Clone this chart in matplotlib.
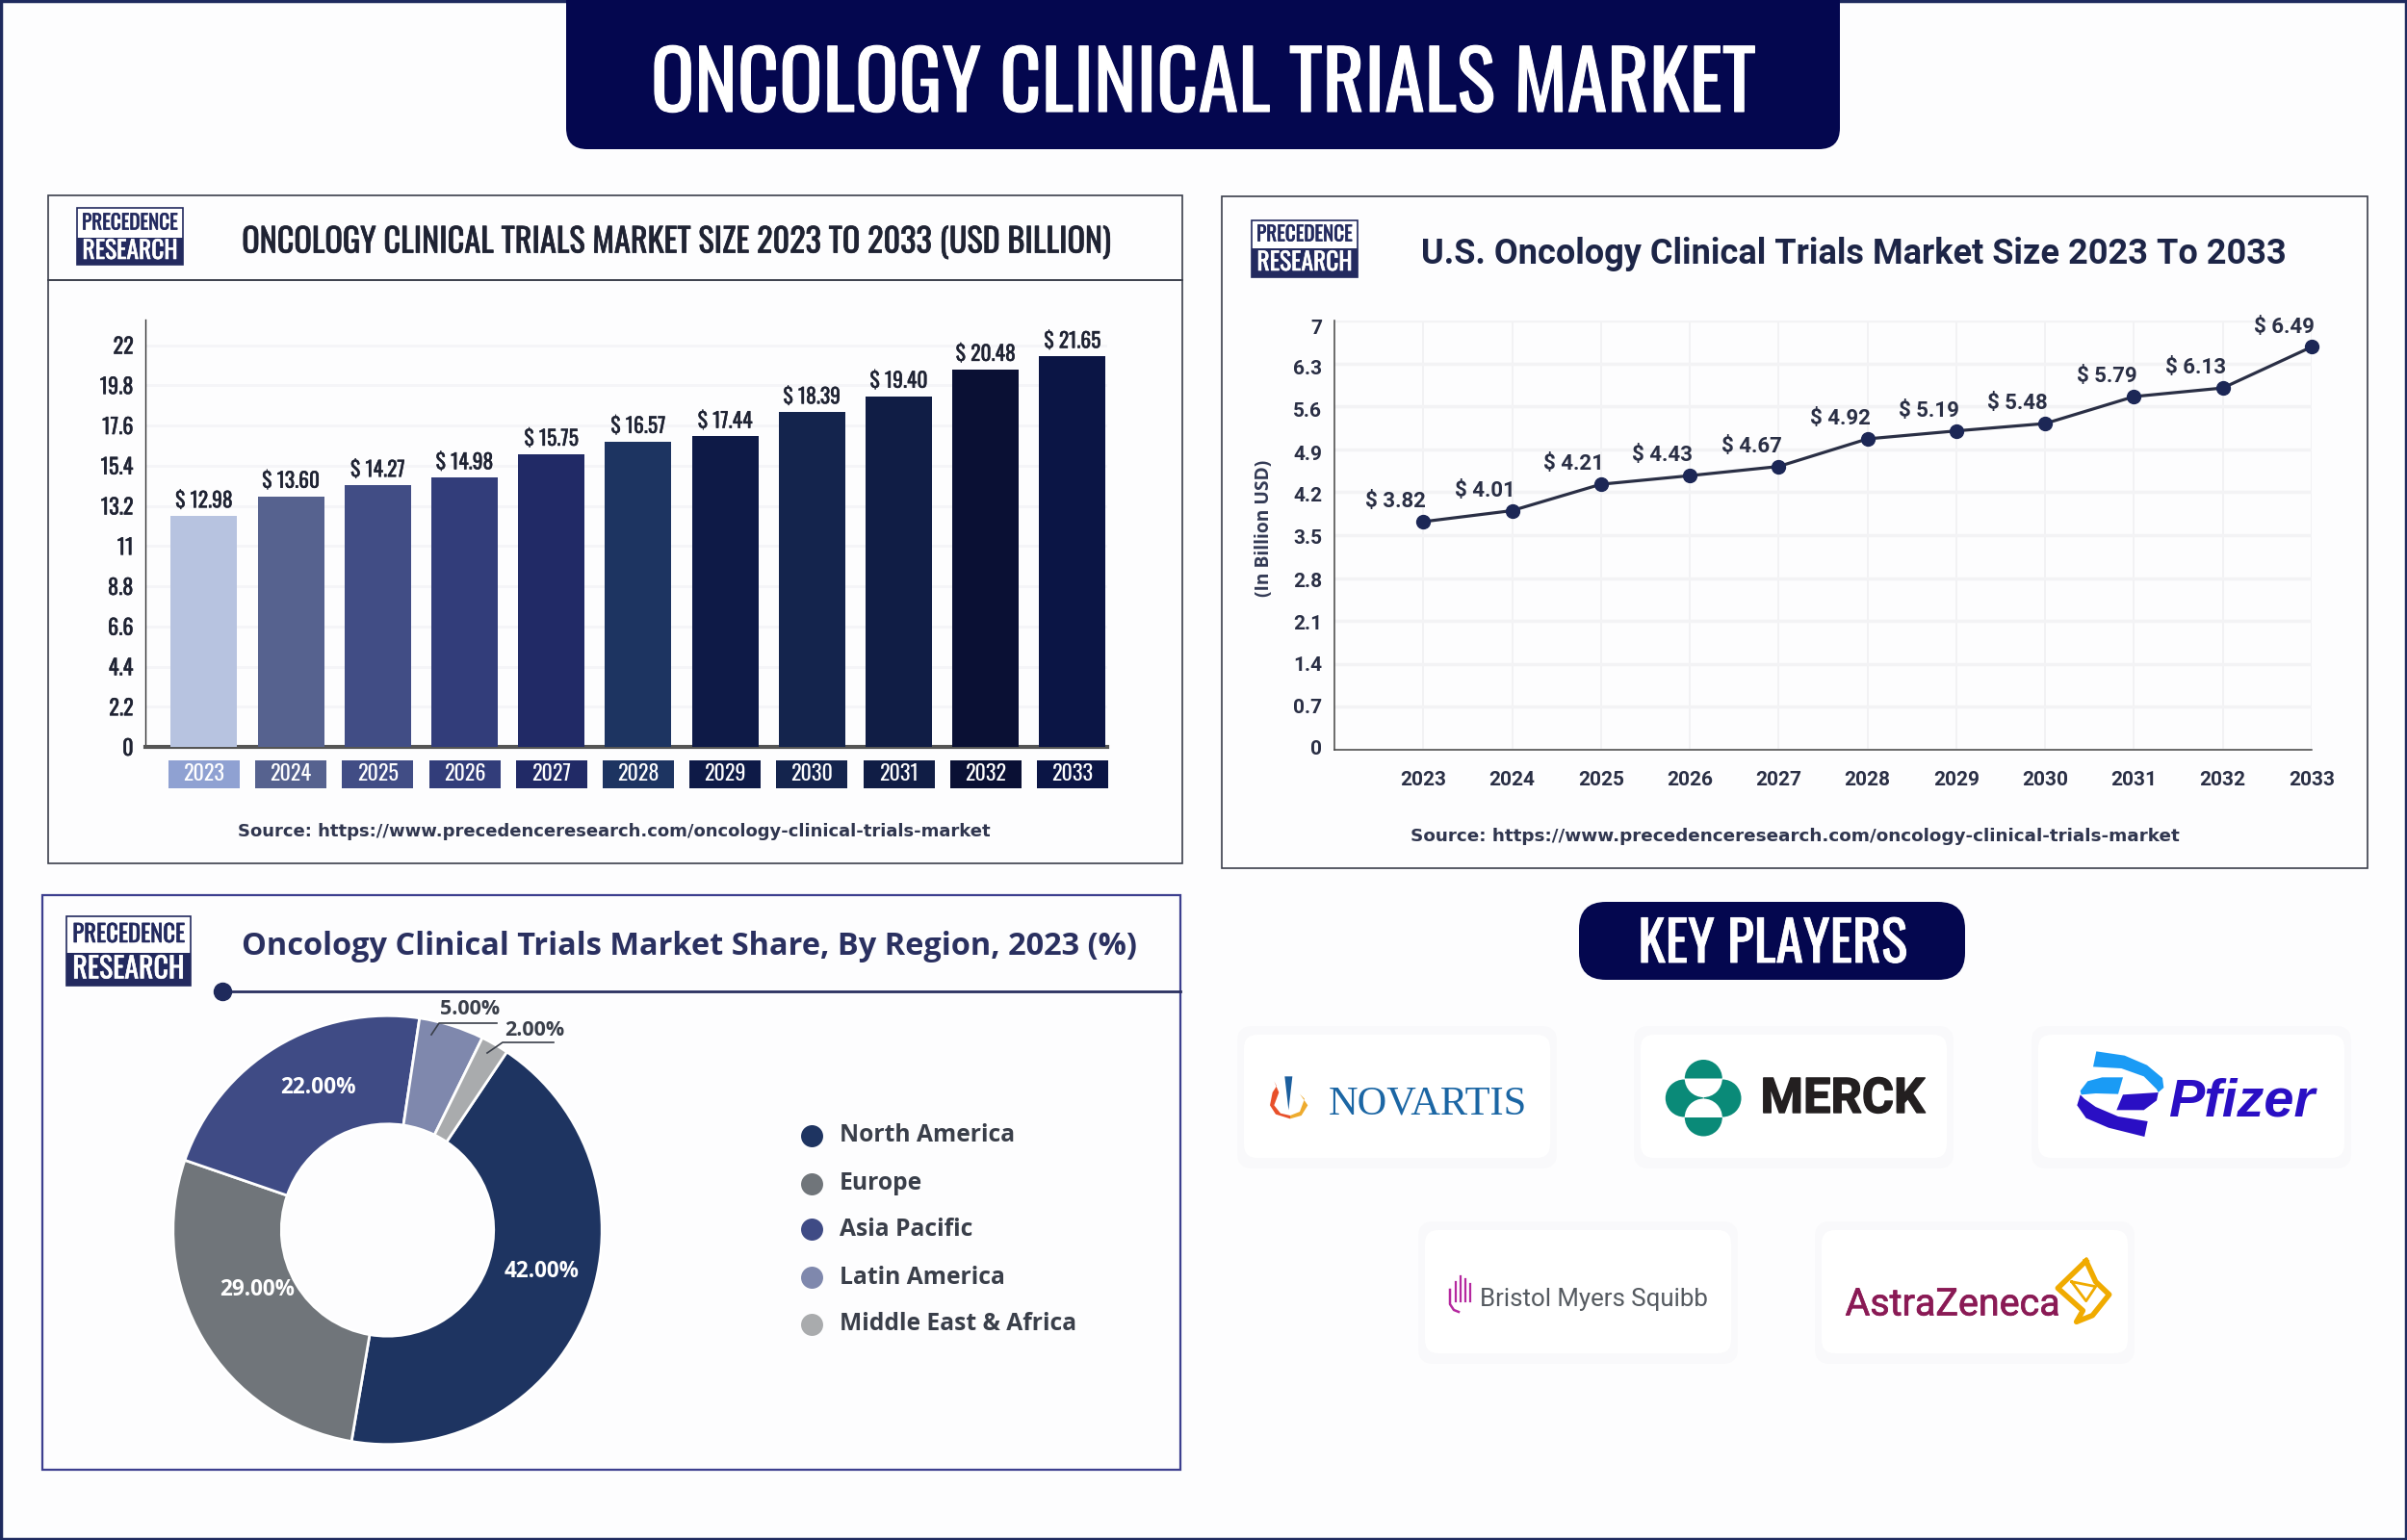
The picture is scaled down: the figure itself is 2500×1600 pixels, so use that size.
import numpy as np
from matplotlib import pyplot as plt
from matplotlib import font_manager as fm
from matplotlib import patheffects as pe
from matplotlib.patches import Rectangle, FancyBboxPatch, Circle, Wedge, Polygon

W, H = 2500, 1600

# market size chart, heights are what the bars measure in the picture (printed labels differ a bit)
years = ['2023', '2024', '2025', '2026', '2027', '2028', '2029', '2030', '2031', '2032', '2033']
size_heights = [12.64, 13.72, 14.33, 14.74, 16.03, 16.72, 17.0, 18.33, 19.2, 20.67, 21.38]
size_labels = ['$ 12.98', '$ 13.60', '$ 14.27', '$ 14.98', '$ 15.75', '$ 16.57', '$ 17.44', '$ 18.39', '$ 19.40', '$ 20.48', '$ 21.65']
size_ticks = [0, 2.2, 4.4, 6.6, 8.8, 11, 13.2, 15.4, 17.6, 19.8, 22]
size_ticklabels = ['0', '2.2', '4.4', '6.6', '8.8', '11', '13.2', '15.4', '17.6', '19.8', '22']
bar_colors = ['#b7c3e0', '#56628f', '#414d85', '#323d7a', '#212a66', '#1d3461', '#0e1a47', '#14244d', '#101d45', '#0a1034', '#0b1545']
box_colors = ['#8fa1d2', '#56628f', '#414d85', '#323d7a', '#212a66', '#1d3461', '#0e1a47', '#14244d', '#101d45', '#0a1034', '#0b1545']

# U.S. chart, same idea
us_points = [3.72, 3.90, 4.33, 4.47, 4.62, 5.07, 5.20, 5.32, 5.76, 5.90, 6.57]
us_labels = ['$ 3.82', '$ 4.01', '$ 4.21', '$ 4.43', '$ 4.67', '$ 4.92', '$ 5.19', '$ 5.48', '$ 5.79', '$ 6.13', '$ 6.49']
us_ticks = [0, 0.7, 1.4, 2.1, 2.8, 3.5, 4.2, 4.9, 5.6, 6.3, 7]
us_ticklabels = ['0', '0.7', '1.4', '2.1', '2.8', '3.5', '4.2', '4.9', '5.6', '6.3', '7']
# the printed tick labels sit a little off the gridlines in the picture
us_tick_text_at = [0, 0.69, 1.37, 2.05, 2.74, 3.44, 4.13, 4.81, 5.52, 6.2, 6.87]

# region donut
regions = ['North America', 'Europe', 'Asia Pacific', 'Latin America', 'Middle East & Africa']
share_drawn = [43.3, 27.6, 22.1, 4.9, 2.1]
share_labels = ['42.00%', '29.00%', '22.00%', '5.00%', '2.00%']
region_colors = ['#1e3461', '#70757a', '#3f4b85', '#7f88ad', '#a9abad']

NAVY = '#04074f'
INK = '#1d2547'
SRC = 'Source: https://www.precedenceresearch.com/oncology-clinical-trials-market'


def pick(names):
    have = {f.name for f in fm.fontManager.ttflist}
    for n in names:
        if n in have:
            return n
    return 'DejaVu Sans'


NARROW = pick(['Oswald', 'Bebas Neue', 'Roboto Condensed', 'Liberation Sans Narrow', 'Arial Narrow', 'Roboto'])

fig = plt.figure(figsize=(W/100, H/100), dpi=100, facecolor='#fdfdfe')
rend = fig.canvas.get_renderer()

top = fig.add_axes([0, 0, 1, 1], zorder=10)
top.set_xlim(0, W)
top.set_ylim(H, 0)
top.axis('off')


def ax_px(l, t, r, b):
    ax = fig.add_axes([l/W, 1-b/H, (r-l)/W, (b-t)/H], zorder=2)
    ax.patch.set_alpha(0)
    return ax


def thick(t, lw):
    # fake a heavier cut, the narrow font only has one weight
    t.set_path_effects([pe.withStroke(linewidth=lw, foreground=t.get_color())])
    return t


def put(x, y, s, width=None, size=12, color=INK, family=None, weight='bold', ha='center', stroke=0, **kw):
    t = top.text(x, y, s, fontsize=size, color=color, family=family or 'DejaVu Sans',
                 weight=weight, ha=ha, va='center', zorder=3, **kw)
    if width:
        e = t.get_window_extent(rend)
        span = max(e.width, e.height) if kw.get('rotation') else e.width
        t.set_fontsize(size*width/span)
    if stroke:
        thick(t, stroke)
    return t


def box(x0, y0, x1, y1, r=0, fc='white', ec='none', lw=0, z=1):
    if r:
        p = FancyBboxPatch((x0, y0), x1-x0, y1-y0, boxstyle='round,pad=0,rounding_size=%g' % r,
                           fc=fc, ec=ec, lw=lw, zorder=z)
    else:
        p = Rectangle((x0, y0), x1-x0, y1-y0, fc=fc, ec=ec, lw=lw, zorder=z)
    top.add_patch(p)


def logo(x0, y0, x1, y1, ymid):
    box(x0, y0, x1, y1, fc='white', ec='#232a5f', lw=1.2)
    box(x0, ymid, x1, y1, fc='#232a5f')
    w = (x1-x0)*0.9
    put((x0+x1)/2, (y0+ymid)/2, 'PRECEDENCE', width=w, color='#232a5f', family=NARROW, stroke=0.4)
    put((x0+x1)/2, (ymid+y1)/2, 'RESEARCH', width=w, color='white', family=NARROW, stroke=0.4)


# page frame and banner
box(1, 1, W-1, H-1, ec='#1e2a5e', lw=2.5, fc='none')
box(588, -40, 1911, 155, r=22, fc=NAVY)
put(1249, 90, 'ONCOLOGY CLINICAL TRIALS MARKET', width=1142, color='white', family=NARROW, stroke=0.8)

# ---- panel 1
box(50, 203, 1228, 897, fc='none', ec='#3b3f4c', lw=1.2)
top.plot([50, 1228], [291, 291], color='#3b3f4c', lw=1.4)
logo(80, 216, 190, 275, 247)
put(702, 252, 'ONCOLOGY CLINICAL TRIALS MARKET SIZE 2023 TO 2033 (USD BILLION)', width=898, color='#1f2333', family=NARROW, stroke=0.5)
put(638, 864, SRC, width=784, color='#30364f', size=12)

ax1 = ax_px(151, 332, 1150, 776)
x1 = np.arange(len(years))
ax1.bar(x1, size_heights, width=0.765, color=bar_colors, zorder=3)
ax1.set_xlim(-0.676, 10.4)
ax1.set_ylim(0, 23.4)
ax1.set_yticks(size_ticks)
ax1.set_yticklabels(size_ticklabels, family=NARROW, weight='bold', fontsize=16, color='#1f2333')
for lab in ax1.get_yticklabels():
    thick(lab, 0.3)
ax1.set_xticks([])
ax1.tick_params(axis='y', length=0, pad=9)
ax1.grid(axis='y', color='#f5f5f8', lw=2)
ax1.set_axisbelow(True)
for s in ['top', 'right']:
    ax1.spines[s].set_visible(False)
ax1.spines['left'].set_color('#333333')
ax1.spines['left'].set_linewidth(1)
ax1.spines['bottom'].set_color('#555555')
ax1.spines['bottom'].set_linewidth(3)
for i in x1:
    a = ax1.annotate(size_labels[i], (i, size_heights[i]), xytext=(0, 3.5), textcoords='offset points',
                     ha='center', va='bottom', family=NARROW, weight='bold', fontsize=15.5, color='#1f2333')
    thick(a, 0.3)
    ax1.add_patch(Rectangle((i-0.41, -0.097), 0.82, 0.0655, transform=ax1.get_xaxis_transform(),
                            fc=box_colors[i], clip_on=False))
    ax1.text(i, -0.064, years[i], transform=ax1.get_xaxis_transform(), ha='center', va='center',
             color='white', family=NARROW, fontsize=16)

# ---- panel 2
box(1269, 204, 2459, 902, fc='none', ec='#3b3f4c', lw=1.2)
logo(1300, 229, 1410, 288, 258)
put(1925, 264, 'U.S. Oncology Clinical Trials Market Size 2023 To 2033', width=898, color=INK, family='Roboto')
put(1864, 869, SRC, width=799, color='#30364f', size=12)
put(1313, 549, '(In Billion USD)', width=141, rotation=90, color='#333a55', size=12, family='Open Sans')

ax2 = ax_px(1386, 333, 2401, 779)
x2 = np.arange(len(years))
ax2.plot(x2, us_points, color='#2a2f45', lw=2.3, marker='o', ms=10, mfc='#1c2756', mec='#1c2756', clip_on=False, zorder=4)
ax2.set_xlim(-1, 10)
ax2.set_ylim(0, 7)
ax2.set_xticks(x2)
ax2.set_xticklabels(years, family='Roboto', weight='bold', fontsize=15, color='#2a2f45')
ax2.set_yticks(us_ticks)
ax2.set_yticklabels([])
for v, lab in zip(us_tick_text_at, us_ticklabels):
    ax2.text(-0.0128, v, lab, transform=ax2.get_yaxis_transform(), ha='right', va='center',
             family='Roboto', weight='bold', fontsize=15, color='#2a2f45')
ax2.tick_params(axis='x', length=0, pad=16)
ax2.tick_params(axis='y', length=0)
ax2.grid(axis='y', color='#f3f3f5', lw=2.5)
ax2.grid(axis='x', color='#f0f0f3', lw=1.2)
ax2.set_axisbelow(True)
for s in ['top', 'right']:
    ax2.spines[s].set_visible(False)
for s in ['left', 'bottom']:
    ax2.spines[s].set_color('#444444')
    ax2.spines[s].set_linewidth(1.1)
for i in x2:
    ax2.annotate(us_labels[i], (i, us_points[i]), xytext=(-20.5, 15), textcoords='offset points',
                 ha='center', va='center', family='Roboto', weight='bold', fontsize=16, color='#2a2f45')

# ---- panel 3
box(44, 930, 1226, 1527, fc='none', ec='#3d3f8f', lw=1.6)
logo(69, 952, 198, 1024, 990)
put(716, 984, 'Oncology Clinical Trials Market Share, By Region, 2023 (%)', width=928, color='#2a3060', family='Open Sans')
top.plot([231, 1226], [1030, 1030], color='#2a3060', lw=2)
top.plot([231], [1030], 'o', color='#1f2a5c', ms=13)

ax3 = ax_px(170, 1046, 635, 1510)
ax3.pie(share_drawn, colors=region_colors, startangle=56.2, counterclock=False, radius=0.96,
        wedgeprops=dict(width=0.485, edgecolor='white', linewidth=2))
ax3.set_xlim(-1, 1)
ax3.set_ylim(-1, 1)

put(563, 1321, share_labels[0], width=78, color='white', family='Open Sans')
put(267, 1340, share_labels[1], width=78, color='white', family='Open Sans')
put(330, 1130, share_labels[2], width=78, color='white', family='Open Sans')
put(488, 1049, share_labels[3], width=62, color='#3a3f4a', family='Open Sans')
put(555, 1070, share_labels[4], width=62, color='#3a3f4a', family='Open Sans')
top.plot([516, 456, 448], [1063, 1063, 1075], color='#3a3f4a', lw=1.2)
top.plot([575, 522, 506], [1083, 1083, 1094], color='#3a3f4a', lw=1.2)

legend_y = [1180, 1230, 1277, 1327, 1376]
for yy, name, c in zip(legend_y, regions, region_colors):
    top.plot([843], [yy], 'o', color=c, ms=15.5)
    put(872, yy, name, size=17.7, color='#3a3f4a', family='Open Sans', ha='left')

# ---- key players
box(1640, 937, 2041, 1018, r=28, fc=NAVY)
put(1841, 982, 'KEY PLAYERS', width=279, color='white', family=NARROW, stroke=0.6)

cards = [(1292, 1075), (1704, 1075), (2117, 1075), (1480, 1278), (1892, 1278)]
for cx, cy in cards:
    box(cx-7, cy-9, cx+325, cy+139, r=16, fc='#f9f9fb')
    box(cx, cy, cx+318, cy+128, r=14, fc='white')


def nv(p):
    return [(1300+a/3, 1085+b/3) for a, b in p]


def mk(p):
    return [(2140+a/3, 1080+b/3) for a, b in p]


def az(p):
    return [(1900+a/3, 1295+b/3) for a, b in p]


# novartis
top.add_patch(Polygon(nv([(103, 100), (127, 100), (115, 205)]), fc='#1c5f9e', zorder=3))
top.add_patch(Polygon(nv([(70, 115), (85, 150), (70, 190), (90, 215), (120, 222), (120, 232), (75, 218), (57, 190), (65, 150), (78, 130)]), fc='#e8502a', zorder=3))
top.add_patch(Polygon(nv([(120, 222), (150, 210), (165, 170), (150, 155), (175, 190), (155, 222), (120, 232)]), fc='#eeab2e', zorder=3))
put(1483, 1147, 'NOVARTIS', width=205, color='#1b66a4', family='Liberation Serif', weight='normal')

# merck
teal = '#0a8a78'
for cc in [(1749.3, 1141), (1789, 1141)]:
    top.add_patch(Circle(cc, 19.5, fc=teal, zorder=3))
for cc, a, b in [((1769.3, 1120.5), 180, 360), ((1769.3, 1161), 0, 180)]:
    top.add_patch(Circle(cc, 19.5, fc='white', zorder=3))
    top.add_patch(Wedge(cc, 19.5, a, b, fc=teal, zorder=3))
put(1914, 1142, 'MERCK', width=170, color='#231f20', family='Roboto', stroke=1)

# pfizer
pf_dark = '#2a0fc4'
pf_light = '#1a9bf5'
top.add_patch(Polygon(mk([(112, 37), (200, 50), (270, 80), (318, 120), (322, 150), (305, 165), (300, 155), (260, 115), (190, 90), (102, 85)]), fc=pf_light, zorder=3))
top.add_patch(Polygon(mk([(195, 118), (130, 118), (85, 130), (62, 160), (65, 172), (110, 168), (180, 170)]), fc=pf_light, zorder=3))
top.add_patch(Polygon(mk([(62, 172), (52, 205), (80, 245), (150, 275), (262, 303), (272, 255), (180, 240), (110, 210), (75, 185)]), fc=pf_dark, zorder=3))
top.add_patch(Polygon(mk([(195, 172), (305, 165), (300, 190), (260, 220), (175, 220)]), fc=pf_dark, zorder=3))
put(2328, 1146, 'Pfizer', width=152, color=pf_dark, family='Liberation Sans', style='italic')

# bristol myers squibb
for hx, h0 in zip([1512, 1517, 1522, 1527], [1332, 1326, 1329, 1334]):
    top.plot([hx, hx], [h0, 1352], color='#b5289f', lw=1.6, zorder=3)
top.plot([1506, 1506, 1510, 1515], [1340, 1355, 1361, 1363], color='#b5289f', lw=1.8, zorder=3)
put(1537, 1350, 'Bristol Myers Squibb', width=236, color='#555a60', family='Roboto', weight='normal', ha='left')

# astrazeneca
gold = '#f0ab00'
top.plot(*zip(*az([(800, 45), (712, 130), (790, 200), (770, 235), (820, 215), (872, 150), (830, 110), (800, 45)])), color=gold, lw=4, zorder=3)
top.plot(*zip(*az([(755, 110), (830, 125), (800, 170), (755, 110)])), color=gold, lw=2, zorder=3)
put(2028, 1356, 'AstraZeneca', width=223, color='#8a1a55', family='Roboto', weight='normal', stroke=0.5)

fig.savefig('out.png', dpi=100, facecolor=fig.get_facecolor())
